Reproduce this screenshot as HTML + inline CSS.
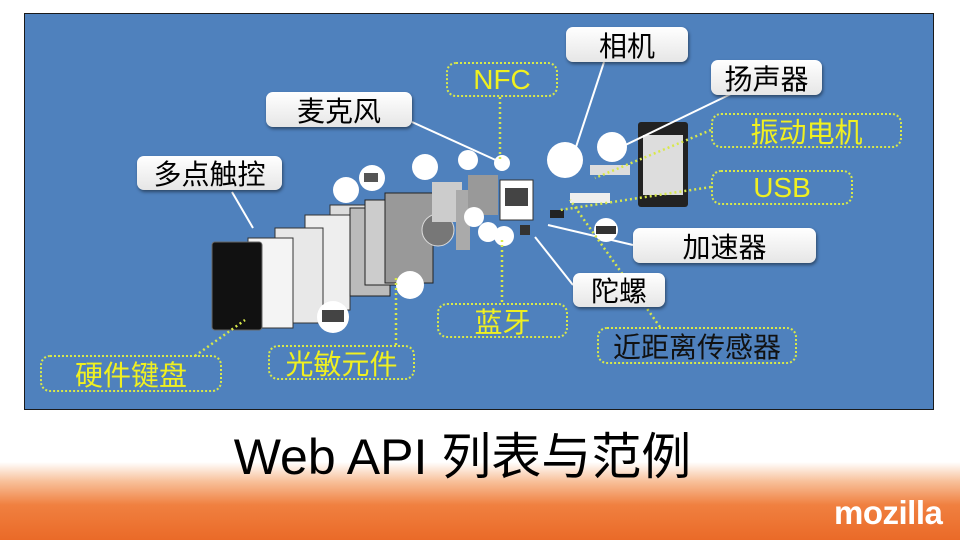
<!DOCTYPE html>
<html><head><meta charset="utf-8"><style>
body{margin:0;width:960px;height:540px;overflow:hidden;background:#fff;font-family:"Liberation Sans","Noto Sans CJK SC",sans-serif;position:relative}
.panel{position:absolute;left:24px;top:13px;width:908px;height:395px;background:#4f81bd;border:1.5px solid #1a1a1a}
.w{position:absolute;background:linear-gradient(#ffffff,#e6e6e6);border-radius:7px;box-shadow:1px 2px 3px rgba(0,0,0,.45);color:#000;font-size:28px;display:flex;align-items:center;justify-content:center}
.y{position:absolute;border:2.5px dotted #d8e84a;border-radius:10px;color:#f0f020;font-size:28px;display:flex;align-items:center;justify-content:center;box-sizing:border-box}
.title{position:absolute;left:0;width:925px;top:417px;text-align:center;font-size:50px;color:#000}
.band{position:absolute;left:0;top:462px;width:960px;height:78px;background:linear-gradient(#fff 0%,#f8c09a 25%,#f08040 55%,#ea6a28 100%)}
.moz{position:absolute;left:834px;top:494px;font-size:33px;font-weight:bold;color:#fff;letter-spacing:-0.5px}
</style></head><body>
<div class="band"></div>
<div class="moz">mozilla</div>
<div class="panel"></div>
<svg style="position:absolute;left:0;top:0" width="960" height="540">
<g>
<rect x="330" y="205" width="45" height="90" fill="#ddd" stroke="#333"/>
<rect x="305" y="215" width="45" height="95" fill="#eee" stroke="#333"/>
<rect x="275" y="228" width="48" height="95" fill="#e8e8e8" stroke="#333"/>
<rect x="248" y="238" width="45" height="90" fill="#f4f4f4" stroke="#333"/>
<rect x="350" y="208" width="40" height="88" fill="#bbb" stroke="#222"/>
<rect x="365" y="200" width="45" height="85" fill="#ccc" stroke="#222"/>
<rect x="385" y="193" width="48" height="90" fill="#999" stroke="#222"/>
<circle cx="438" cy="230" r="16" fill="#777" stroke="#ddd"/>
<circle cx="410" cy="285" r="14" fill="#fff"/>
<circle cx="333" cy="317" r="16" fill="#fff"/><rect x="322" y="310" width="22" height="12" fill="#444"/>
<rect x="432" y="182" width="30" height="40" fill="#ccc"/>
<rect x="456" y="190" width="14" height="60" fill="#aaa"/>
<rect x="468" y="175" width="30" height="40" fill="#999"/>
<rect x="500" y="180" width="33" height="40" fill="#fff" stroke="#333"/><rect x="505" y="188" width="23" height="18" fill="#444"/>
<circle cx="346" cy="190" r="13" fill="#fff"/><circle cx="372" cy="178" r="13" fill="#fff"/><rect x="364" y="173" width="14" height="9" fill="#555"/>
<circle cx="425" cy="167" r="13" fill="#fff"/><circle cx="468" cy="160" r="10" fill="#fff"/><circle cx="502" cy="163" r="8" fill="#fff"/>
<circle cx="474" cy="217" r="10" fill="#fff"/><circle cx="488" cy="232" r="10" fill="#fff"/><circle cx="504" cy="236" r="10" fill="#fff"/>
<rect x="520" y="225" width="10" height="10" fill="#333"/>
<circle cx="565" cy="160" r="18" fill="#fff"/><circle cx="612" cy="147" r="15" fill="#fff"/>
<rect x="590" y="165" width="40" height="10" fill="#ddd"/><rect x="570" y="193" width="40" height="10" fill="#eee"/>
<rect x="550" y="210" width="14" height="8" fill="#222"/>
<circle cx="606" cy="230" r="12" fill="#fff"/><rect x="596" y="226" width="20" height="8" fill="#333"/>
<rect x="638" y="122" width="50" height="85" rx="3" fill="#222"/><rect x="643" y="135" width="40" height="60" fill="#ddd"/>
<rect x="212" y="242" width="50" height="88" rx="3" fill="#111" stroke="#666"/>
</g>
<g stroke="#fff" stroke-width="2" fill="none">
<line x1="232" y1="192" x2="253" y2="228"/>
<line x1="412" y1="122" x2="500" y2="162"/>
<line x1="604" y1="62" x2="575" y2="150"/>
<line x1="735" y1="92" x2="615" y2="150"/>
<line x1="633" y1="245" x2="548" y2="225"/>
<line x1="573" y1="285" x2="535" y2="237"/>
</g>
<g stroke="#d8e84a" stroke-width="2.5" stroke-dasharray="2 3" fill="none">
<line x1="500" y1="97" x2="500" y2="160"/>
<line x1="502" y1="240" x2="502" y2="303"/>
<line x1="711" y1="130" x2="595" y2="178"/>
<line x1="711" y1="187" x2="560" y2="210"/>
<line x1="660" y1="327" x2="570" y2="200"/>
<line x1="396" y1="345" x2="396" y2="275"/>
<line x1="195" y1="356" x2="245" y2="320"/>
</g>
</svg>
<div class="w" style="left:566px;top:27px;width:122px;height:35px">相机</div>
<div class="w" style="left:711px;top:60px;width:111px;height:35px">扬声器</div>
<div class="w" style="left:266px;top:92px;width:146px;height:35px">麦克风</div>
<div class="w" style="left:137px;top:156px;width:145px;height:34px">多点触控</div>
<div class="w" style="left:633px;top:228px;width:183px;height:35px">加速器</div>
<div class="w" style="left:573px;top:273px;width:92px;height:34px">陀螺</div>
<div class="y" style="left:446px;top:62px;width:112px;height:35px">NFC</div>
<div class="y" style="left:711px;top:113px;width:191px;height:35px">振动电机</div>
<div class="y" style="left:711px;top:170px;width:142px;height:35px">USB</div>
<div class="y" style="left:437px;top:303px;width:131px;height:35px">蓝牙</div>
<div class="y" style="left:597px;top:327px;width:200px;height:37px;color:#111;background:#4f81bd">近距离传感器</div>
<div class="y" style="left:268px;top:345px;width:147px;height:35px">光敏元件</div>
<div class="y" style="left:40px;top:355px;width:182px;height:37px">硬件键盘</div>
<div class="title">Web API 列表与范例</div>
</body></html>
